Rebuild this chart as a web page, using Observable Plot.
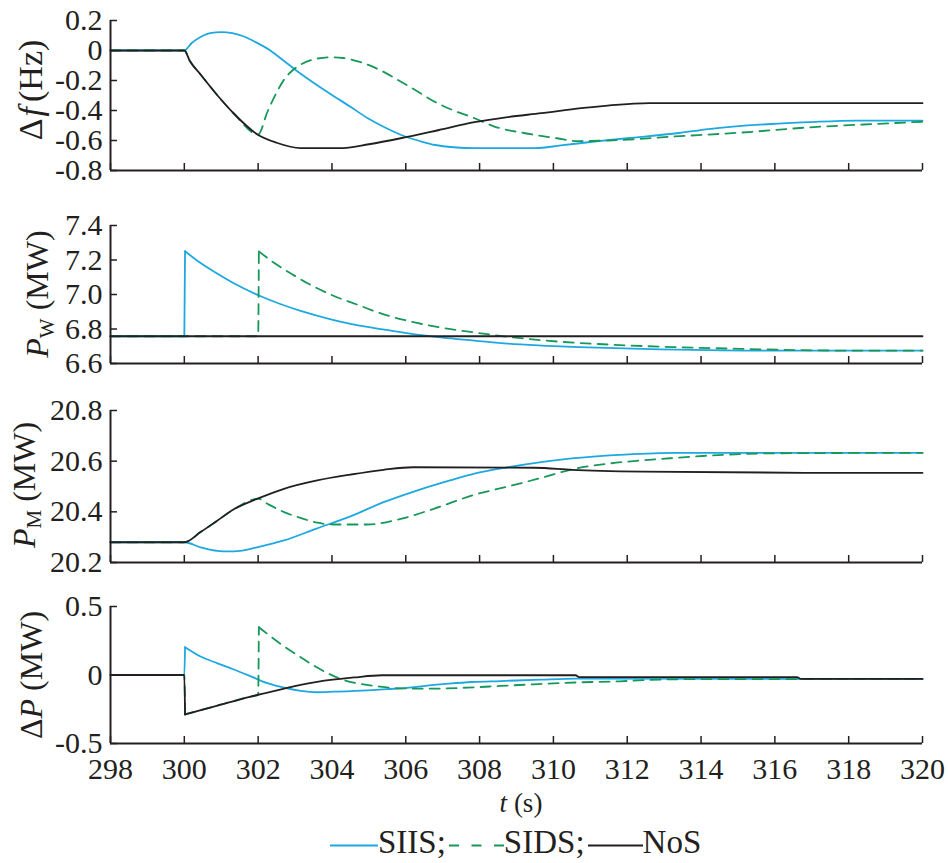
<!DOCTYPE html>
<html><head><meta charset="utf-8">
<script src="https://cdn.jsdelivr.net/npm/d3@7"></script>
<script src="https://cdn.jsdelivr.net/npm/@observablehq/plot@0.6"></script>
<style>
body{margin:0;background:#fff;}
#wrap{position:relative;width:948px;height:863px;font-family:"Liberation Serif","Times New Roman",serif;color:#231f20;overflow:hidden;}
.panel{position:absolute;left:0;}
.ylab{position:absolute;transform:translate(-50%,-50%) rotate(-90deg);white-space:nowrap;font-size:32px;line-height:1;}
.ylab sub{font-size:21px;vertical-align:-6px;line-height:0;}
#xlab{position:absolute;left:521px;top:803px;transform:translate(-50%,-50%);font-size:27px;white-space:nowrap;line-height:1;}
#legend{position:absolute;left:330px;top:842px;transform:translateY(-50%);font-size:33px;white-space:nowrap;line-height:1;display:flex;align-items:center;}
#legend svg{display:block;}
</style></head>
<body><div id="wrap"></div>
<script>
// ---- ticks ----
const xTicks = [298,300,302,304,306,308,310,312,314,316,318,320];
const dfTicks = [0.2,0,-0.2,-0.4,-0.6,-0.8];
const pwTicks = [7.4,7.2,7.0,6.8,6.6];
const pmTicks = [20.8,20.6,20.4,20.2];
const dpTicks = [0.5,0,-0.5];
const seriesNames = ["SIIS","SIDS","NoS"];

// ---- panel 1: Δf (Hz) ----  [t, value]
const df_SIIS = [[298,0],[300,0],[300.2,0.05],[300.44,0.09],[300.7,0.116],[301,0.122],[301.3,0.116],[301.6,0.095],[301.9,0.06],[302.3,0.005],[302.65,-0.06],[303.07,-0.14],[303.5,-0.215],[303.96,-0.29],[304.5,-0.375],[304.96,-0.45],[305.45,-0.515],[305.95,-0.57],[306.4,-0.605],[306.8,-0.63],[307.3,-0.645],[307.86,-0.651],[309.5,-0.651],[310.2,-0.633],[311,-0.61],[312,-0.585],[313.4,-0.55],[314.2,-0.524],[315.9,-0.49],[316.9,-0.478],[318.2,-0.467],[320,-0.467]];
const df_SIDS = [[298,0],[300,0],[300.15,-0.07],[300.44,-0.16],[300.9,-0.3],[301.34,-0.42],[302,-0.56],[302.25,-0.41],[302.5,-0.28],[302.7,-0.195],[302.9,-0.14],[303.15,-0.095],[303.5,-0.06],[303.95,-0.045],[304.3,-0.05],[304.78,-0.078],[305.3,-0.13],[305.86,-0.207],[306.3,-0.27],[306.77,-0.34],[307.3,-0.4],[307.85,-0.45],[308.4,-0.507],[309.2,-0.55],[310.1,-0.585],[310.65,-0.604],[311.5,-0.6],[313.3,-0.573],[315.1,-0.547],[316.9,-0.513],[318.7,-0.49],[320,-0.475]];
const df_NoS = [[298,0],[300,0],[300.15,-0.07],[300.44,-0.16],[300.9,-0.3],[301.34,-0.42],[301.97,-0.558],[302.5,-0.615],[303.15,-0.651],[304.3,-0.651],[305,-0.625],[305.86,-0.585],[306.9,-0.53],[307.86,-0.478],[308.76,-0.444],[309.67,-0.418],[310.75,-0.384],[311.47,-0.367],[312.6,-0.351],[320,-0.351]];

// ---- panel 2: P_W (MW) ----
const pw_SIIS = [[298,6.758],[300,6.758],[300.02,7.251],[300.44,7.182],[300.9,7.12],[301.34,7.065],[302.07,6.99],[302.6,6.945],[303.15,6.905],[304.05,6.852],[304.96,6.812],[305.6,6.79],[306.2,6.77],[307,6.75],[307.86,6.733],[308.77,6.715],[309.67,6.704],[310.7,6.695],[312.4,6.685],[315.5,6.675],[320,6.675]];
const pw_SIDS = [[298,6.758],[302,6.758],[302.02,7.25],[302.44,7.182],[302.9,7.12],[303.34,7.065],[304.07,6.99],[304.7,6.94],[305.4,6.885],[306.1,6.845],[306.77,6.815],[307.85,6.78],[308.77,6.755],[309.67,6.735],[311.47,6.71],[313.3,6.695],[315.1,6.685],[317.8,6.675],[320,6.675]];
const pw_NoS = [[298,6.758],[320,6.758]];

// ---- panel 3: P_M (MW) ----
const pm_SIIS = [[298,20.28],[300,20.28],[300.44,20.26],[300.9,20.246],[301.2,20.244],[301.5,20.246],[301.97,20.26],[302.7,20.287],[303.6,20.335],[304.5,20.382],[305.4,20.438],[306.3,20.484],[307.2,20.524],[307.86,20.551],[308.77,20.576],[309.67,20.596],[310.57,20.612],[311.93,20.626],[313.3,20.633],[320,20.633]];
const pm_SIDS = [[298,20.28],[300,20.28],[300.44,20.32],[300.9,20.366],[301.34,20.41],[302,20.452],[302.25,20.432],[302.7,20.399],[303.15,20.376],[303.6,20.357],[304.05,20.35],[304.96,20.35],[305.86,20.372],[306.76,20.412],[307.85,20.467],[308.77,20.5],[309.67,20.534],[310.57,20.57],[311.47,20.59],[312.4,20.603],[313.3,20.613],[314.2,20.622],[316,20.631],[320,20.633]];
const pm_NoS = [[298,20.28],[300,20.28],[300.44,20.32],[300.9,20.366],[301.34,20.41],[301.97,20.451],[302.7,20.491],[303.6,20.524],[304.5,20.547],[305.4,20.566],[306.2,20.576],[309.5,20.574],[310.5,20.566],[312.4,20.559],[316.8,20.554],[320,20.554]];

// ---- panel 4: ΔP (MW) ----
const dp_SIIS = [[298,0],[300,0],[300.02,0.203],[300.44,0.135],[300.9,0.085],[301.34,0.04],[301.8,-0.01],[302.25,-0.06],[302.7,-0.093],[303.15,-0.116],[303.6,-0.126],[304.05,-0.122],[304.96,-0.112],[305.5,-0.103],[306.04,-0.094],[306.58,-0.077],[307.17,-0.063],[307.8,-0.051],[308.57,-0.044],[309.65,-0.034],[310.64,-0.027],[320,-0.03]];
const dp_SIDS = [[298,0],[300,0],[300.02,-0.288],[300.9,-0.223],[301.8,-0.157],[302,-0.145],[302.02,0.349],[302.25,0.3],[302.7,0.21],[303.15,0.13],[303.5,0.07],[303.87,0.015],[304.3,-0.035],[304.78,-0.065],[305.3,-0.085],[305.86,-0.097],[306.76,-0.1],[307.67,-0.092],[308.57,-0.08],[309.47,-0.068],[310.8,-0.053],[311.8,-0.046],[312.5,-0.037],[314,-0.03],[320,-0.03]];
const dp_NoS = [[298,0],[300,0],[300.02,-0.288],[300.9,-0.223],[301.8,-0.157],[302.7,-0.1],[303.15,-0.072],[303.6,-0.05],[304.6,-0.018],[305.36,-0.002],[310.6,-0.002],[310.7,-0.016],[316.6,-0.016],[316.7,-0.028],[320,-0.028]];

const colors = {SIIS:"#1ea8e0", SIDS:"#17985a", NoS:"#231f20"};
const dash = {SIIS:null, SIDS:"10,7", NoS:null};

const fmt = d => Math.abs(d) < 1e-9 ? "0" : d.toFixed(1);

// split a series at its step jumps so the smooth curve keeps sharp corners there
function withSegments(arr) {
  const out = [];
  let seg = 0;
  arr.forEach((d, i) => {
    out.push({t: d[0], v: d[1], seg});
    if (i > 0 && d[0] - arr[i - 1][0] < 0.05) {
      seg++;
      out.push({t: d[0], v: d[1], seg});
    }
  });
  return out;
}

const panels = [
  {top:0, height:185, mb:15, domain:[-0.8,0.2], ticks:dfTicks, data:{SIIS:df_SIIS,SIDS:df_SIDS,NoS:df_NoS}, labels:false,
   ylab:'Δ<i style="margin:0 5px 0 2px">f</i>(Hz)', lx:31, ly:90, fs:34},
  {top:205, height:173, mb:15, domain:[6.6,7.4], ticks:pwTicks, data:{SIIS:pw_SIIS,SIDS:pw_SIDS,NoS:pw_NoS}, labels:false,
   ylab:'<i>P</i><sub>W</sub> (MW)', lx:37, ly:294, fs:32},
  {top:390, height:187, mb:15, domain:[20.2,20.8], ticks:pmTicks, data:{SIIS:pm_SIIS,SIDS:pm_SIDS,NoS:pm_NoS}, labels:false,
   ylab:'<i>P</i><sub>M</sub> (MW)', lx:24, ly:485, fs:32},
  {top:586, height:202, mb:45, domain:[-0.5,0.5], ticks:dpTicks, data:{SIIS:dp_SIIS,SIDS:dp_SIDS,NoS:dp_NoS}, labels:true,
   ylab:'Δ<i>P</i> (MW)', lx:31, ly:675, fs:32}
];

const wrap = document.getElementById("wrap");
for (const p of panels) {
  const lineMarks = seriesNames.map(s => Plot.line(withSegments(p.data[s]), {
    x: "t", y: "v", z: "seg", stroke: colors[s], strokeWidth: 1.8,
    strokeDasharray: dash[s], strokeLinejoin: "round", curve: "monotone-x"
  }));
  const chart = Plot.plot({
    width: 948, height: p.height,
    marginLeft: 110, marginRight: 26, marginTop: 20, marginBottom: p.mb,
    style: {fontFamily: '"Liberation Serif","Times New Roman",serif', fontSize: "30px", color: "#231f20", background: "transparent", overflow: "visible"},
    x: {domain: [298, 320], axis: null},
    y: {domain: p.domain, axis: null},
    marks: [
      Plot.axisY(p.ticks, {tickSize: -7, tickPadding: 15, tickFormat: fmt, label: null, strokeWidth: 1.5}),
      Plot.axisX(xTicks, {tickSize: -7, tickPadding: 21, tickFormat: p.labels ? (d => String(d)) : (() => ""), label: null, strokeWidth: 1.5}),
      ...lineMarks,
      Plot.ruleX([298], {strokeWidth: 2, stroke: "#231f20"}),
      Plot.ruleY([p.domain[0]], {strokeWidth: 2, stroke: "#231f20"})
    ]
  });
  chart.classList.add("panel");
  chart.style.top = p.top + "px";
  wrap.appendChild(chart);
  const lab = document.createElement("div");
  lab.className = "ylab";
  lab.style.left = p.lx + "px";
  lab.style.top = p.ly + "px";
  lab.style.fontSize = p.fs + "px";
  lab.innerHTML = p.ylab;
  wrap.appendChild(lab);
}

const xl = document.createElement("div");
xl.id = "xlab";
xl.innerHTML = "<i>t</i> (s)";
wrap.appendChild(xl);

const leg = document.createElement("div");
leg.id = "legend";
const legW = {SIIS:48, SIDS:55, NoS:55};
const legDash = {SIIS:null, SIDS:"10,12.5", NoS:null};
function legLine(s) {
  const w = legW[s];
  return `<svg width="${w}" height="20"><line x1="0" x2="${w}" y1="13" y2="13" stroke="${colors[s]}" stroke-width="1.8" ${legDash[s] ? `stroke-dasharray="${legDash[s]}"` : ""}/></svg>`;
}
leg.innerHTML = seriesNames.map((s, i) => `${legLine(s)}<span style="margin-right:${i < 2 ? 3 : 0}px">${s}${i < 2 ? ";" : ""}</span>`).join("");
wrap.appendChild(leg);
</script>
</body></html>
